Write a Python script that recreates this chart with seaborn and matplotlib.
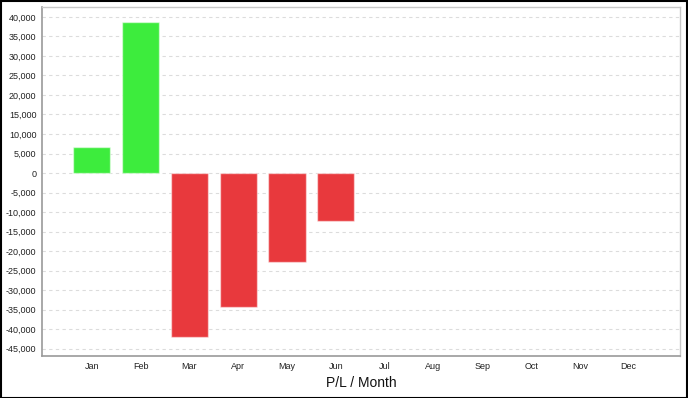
import pandas as pd
import numpy as np
import matplotlib
matplotlib.use("Agg")
import matplotlib.pyplot as plt
from matplotlib.ticker import FuncFormatter, MultipleLocator
import seaborn as sns

months = ["Jan", "Feb", "Mar", "Apr", "May", "Jun",
          "Jul", "Aug", "Sep", "Oct", "Nov", "Dec"]
pl_values = [6700, 38600, -42000, -34300, -22900, -12300,
             np.nan, np.nan, np.nan, np.nan, np.nan, np.nan]
x_label = "P/L / Month"

GREEN = "#3dec3d"
RED = "#e8393d"


def main():
    df = pd.DataFrame({"month": months, "pl": pl_values})
    df["sign"] = np.where(df["pl"] >= 0, "gain", "loss")
    df.loc[df["pl"].isna(), "sign"] = "gain"

    sns.set_theme(style="white")
    plt.rcParams["font.family"] = ["Liberation Sans", "DejaVu Sans"]

    fig = plt.figure(figsize=(6.88, 3.98), dpi=100)
    ax = fig.add_axes([42 / 688, 1 - 356 / 398, (680 - 42) / 688, (356 - 7) / 398])

    sns.barplot(data=df, x="month", y="pl", hue="sign", order=months,
                palette={"gain": GREEN, "loss": RED}, hue_order=["gain", "loss"],
                dodge=False, width=0.76, legend=False, ax=ax,
                edgecolor=(1, 1, 1, 0.5), linewidth=1, saturation=1)

    ax.set_xlim(-1.02, 12.05)
    ax.set_ylim(-46900, 42550)
    ax.yaxis.set_major_locator(MultipleLocator(5000))
    ax.yaxis.set_major_formatter(FuncFormatter(lambda v, p: f"{int(v):,}"))
    ax.grid(axis="y", color="#dcdcdc", linestyle=(0, (3, 3)), linewidth=0.8)
    ax.set_axisbelow(True)

    for side in ["left", "bottom"]:
        ax.spines[side].set_color("#9a9a9a")
        ax.spines[side].set_linewidth(1.2)
    for side in ["top", "right"]:
        ax.spines[side].set_color("#c8c8c8")
        ax.spines[side].set_linewidth(1.0)

    ax.tick_params(axis="both", which="major", labelsize=6.5, colors="#222222",
                   length=2, width=0.8, direction="out", pad=2)
    ax.tick_params(axis="both", color="#9a9a9a")
    ax.tick_params(axis="x", pad=2.5)
    ax.set_ylabel("")
    ax.set_xlabel(x_label, fontsize=10, color="#111111")
    ax.xaxis.set_label_coords(0.5, -(383 - 356) / 349)
    ax.xaxis.label.set_va("center")

    fig.patches.append(plt.Rectangle((0.001, 0.001), 0.998, 0.997, transform=fig.transFigure,
                                     fill=False, edgecolor="black", linewidth=1.5))

    fig.savefig("out.png", dpi=100, facecolor="white")
    plt.close(fig)


if __name__ == "__main__":
    main()
